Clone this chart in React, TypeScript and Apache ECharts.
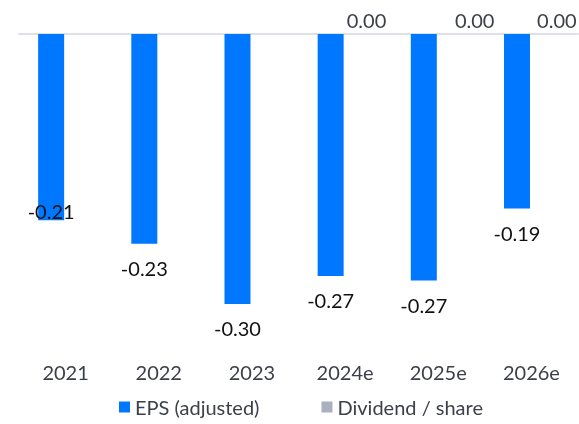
import React, { useEffect, useRef } from "react";
import * as echarts from "echarts";

const categories = ["2021", "2022", "2023", "2024e", "2025e", "2026e"];
const epsValues = [-0.207, -0.233, -0.3, -0.269, -0.274, -0.194];
const dividendValues: (number | null)[] = [null, null, null, 0, 0, 0];
const dividendLabelOffsetX = [0, 0, 0, 7, 22, 11];
const epsLabelOffsetY = [-33, 0, 0, 0, 0, 0];
const seriesNames = ["EPS (adjusted)", "Dividend / share"];

const FONT = "Lato";

export default function App() {
  const ref = useRef<HTMLDivElement>(null);
  useEffect(() => {
    document.body.style.margin = "0";
    if (!ref.current) return;
    const chart = echarts.init(ref.current, null, { renderer: "svg" });
    chart.setOption({
      animation: false,
      textStyle: { fontFamily: FONT },
      legend: {
        left: 119,
        top: 397,
        padding: 0,
        itemWidth: 11,
        itemHeight: 11,
        itemGap: 62,
        icon: "rect",
        textStyle: { fontFamily: FONT, fontSize: 20, color: "#3c4048" },
        data: seriesNames,
      },
      grid: { left: 19, right: 1, top: 34, height: 315 },
      xAxis: [
        {
          type: "category",
          data: categories,
          position: "bottom",
          axisLine: { show: false, onZero: false },
          axisTick: { show: false },
          axisLabel: { margin: 13, fontSize: 20, color: "#3c4048", fontFamily: FONT },
        },
        {
          type: "category",
          data: categories,
          position: "top",
          axisLine: { show: true, onZero: false, lineStyle: { color: "#dde1e6", width: 2 } },
          axisTick: { show: false },
          axisLabel: { show: false },
        },
      ],
      yAxis: {
        type: "value",
        min: -0.35,
        max: 0,
        show: false,
        splitLine: { show: false },
      },
      series: [
        {
          name: seriesNames[0],
          type: "bar",
          xAxisIndex: 0,
          barWidth: 26,
          barGap: "11%",
          itemStyle: { color: "#0077ff" },
          data: epsValues.map((v, i) => ({
            value: v,
            label: { offset: [0, epsLabelOffsetY[i]] },
          })),
          label: {
            show: true,
            position: "bottom",
            distance: 14,
            fontSize: 20,
            color: "#111111",
            fontFamily: FONT,
            formatter: (p: any) => Number(p.value).toFixed(2),
          },
          z: 3,
        },
        {
          name: seriesNames[1],
          type: "bar",
          xAxisIndex: 0,
          barWidth: 26,
          itemStyle: { color: "#aab0c0" },
          data: dividendValues.map((v, i) => ({
            value: v,
            label: { offset: [dividendLabelOffsetX[i], 0] },
          })),
          label: {
            show: true,
            position: "top",
            distance: 4,
            fontSize: 20,
            color: "#3c4048",
            fontFamily: FONT,
            formatter: (p: any) => (p.value == null ? "" : Number(p.value).toFixed(2)),
          },
        },
      ],
    });
    return () => chart.dispose();
  }, []);
  return (
    <div
      ref={ref}
      style={{ width: 579, height: 424, position: "fixed", left: 0, top: 0 }}
    />
  );
}
